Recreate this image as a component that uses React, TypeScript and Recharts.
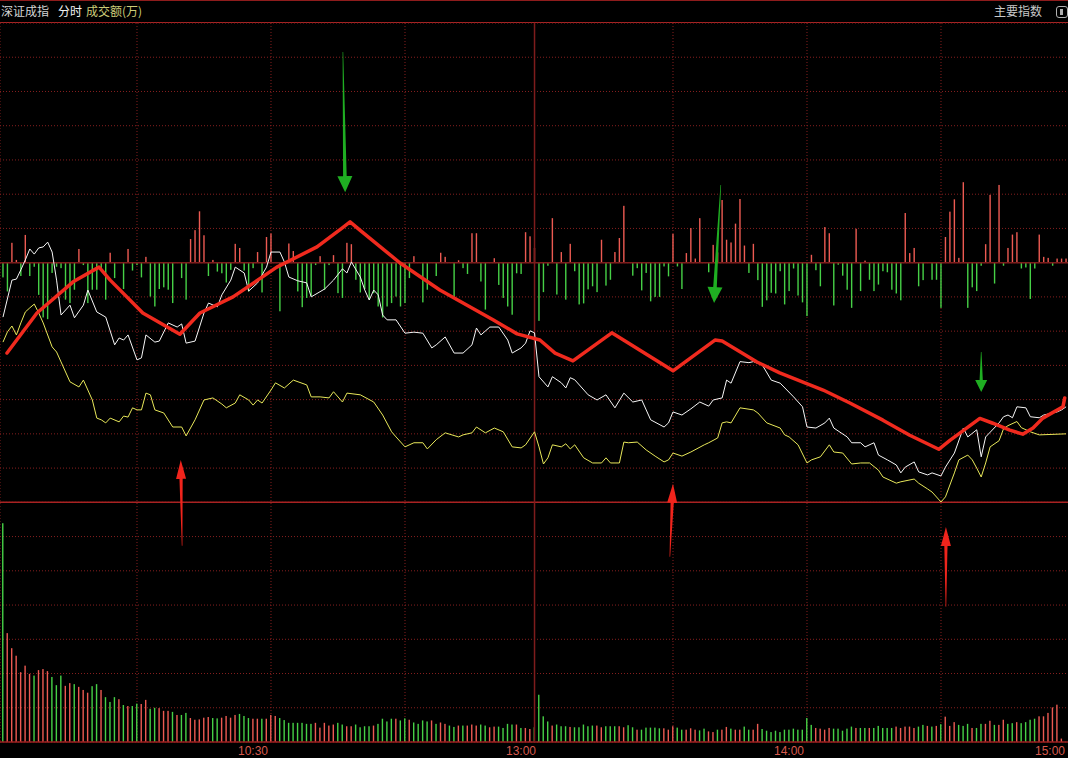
import React from 'react';
import { ComposedChart, Bar, Line, XAxis, YAxis, CartesianGrid, ReferenceLine, Cell } from 'recharts';

// ---------- data ----------
// per-minute red/green indicator around the zero line (price-panel units)
const minuteFlow = [
  -0.43, -0.84, 0.58, 0.08, -0.39, 0.81, -0.39, -0.12, -0.94, -1.6,
  -1.65, -0.3, -0.12, -0.16, -1.08, -1.18, -0.79, 0.4, -0.07, -1.18,
  -0.79, -0.79, -0.16, -1.08, 0.29, -0.45, 0, -0.77, 0.4, -0.23,
  -0.07, -0.43, 0.17, -0.99, -1.28, -0.77, -0.72, -0.79, -1.18, 0,
  -0.45, -1.08, 0.69, 0.95, 1.5, 0.8, -0.39, 0.08, -0.26, -0.31,
  -0.58, -0.21, 0.55, 0.43, -0.23, -0.84, -0.16, 0.31, -0.87, 0.75,
  0.85, 0, -1.42, 0, 0.56, 0.34, -0.84, -1.3, -1.03, -0.97,
  -0.07, 0.19, -0.79, -0.07, 0.22, -0.89, -1.03, 0.58, 0.54, -0.5,
  -0.87, -0.77, -1.08, -0.89, -1.28, -1.6, -1.28, -1.18, -0.99, -1.28,
  -1.18, -0.45, 0.19, 0, -1.16, -0.79, 0, -0.39, 0.29, 0.17,
  0, -1.0, 0.07, -0.16, -0.33, 0.86, 0.86, -0.55, -1.37, 0,
  0.13, -0.65, -1.03, -1.28, -1.52, -0.31, -0.33, 0.89, 0.77, 0.43,
  -1.7, -0.86, -0.09, 1.3, -0.93, 0.31, -1.08, 0.55, -0.25, -1.22,
  -1.19, -0.78, -0.69, -0.86, 0.67, -0.67, -0.5, 0.31, 0.72, 1.66,
  0, -0.38, -0.16, -0.81, -0.3, -1.13, -1.0, -1.0, -0.11, -0.4,
  0.84, -0.11, -0.77, 0.28, 1.01, 0.12, 1.3, 0, -0.28, 0.52,
  0.3, 1.83, 0.67, 0.59, 1.14, 1.86, 0.5, -0.3, 0.55, -0.51,
  -1.29, -1.1, -0.88, -0.9, -0.25, -1.22, -0.83, -0.17, -0.96, -1.16,
  -1.56, 0.23, -0.22, -0.69, 1.04, 0.86, -1.25, -0.06, -0.38, -0.79,
  -1.32, 0.99, -0.83, 0.06, -0.5, -0.83, -0.64, -0.25, -0.28, -0.79,
  -0.9, -1.1, 1.45, 0.28, 0.43, -0.69, -0.51, 0, -0.5, -0.5,
  -1.32, 0.75, 1.49, 1.85, 0.14, 2.35, -1.32, -0.72, -0.83, -0.09,
  0.54, 1.98, -0.61, 2.27, -0.09, 0.43, 0.82, 0.89, -0.17, -0.14,
  -1.06, -0.17, 0.82, 0.17, 0.14, -0.09, 0.12, 0.12, 0.12,
];

// per-minute turnover (volume-panel units)
const volume = [
  6.39, 3.18, 2.74, 2.52, 2.04, 2.23, 1.99, 1.94, 2.1, 2.13,
  2.07, 1.9, 1.66, 1.94, 1.64, 1.72, 1.69, 1.61, 1.52, 1.44,
  1.63, 1.69, 1.52, 1.31, 1.17, 1.31, 1.25, 1.08, 1.05, 1.05,
  1.12, 1.11, 1.23, 0.97, 1.0, 0.99, 0.91, 0.91, 0.88, 0.79,
  0.79, 0.85, 0.7, 0.65, 0.66, 0.71, 0.73, 0.7, 0.69, 0.71,
  0.76, 0.71, 0.79, 0.82, 0.76, 0.7, 0.68, 0.68, 0.68, 0.68,
  0.79, 0.76, 0.7, 0.64, 0.56, 0.56, 0.56, 0.56, 0.53, 0.53,
  0.56, 0.42, 0.56, 0.48, 0.51, 0.56, 0.51, 0.46, 0.46, 0.51,
  0.43, 0.46, 0.46, 0.48, 0.53, 0.68, 0.6, 0.68, 0.68, 0.63,
  0.69, 0.65, 0.57, 0.53, 0.63, 0.6, 0.63, 0.53, 0.57, 0.53,
  0.48, 0.44, 0.48, 0.48, 0.48, 0.51, 0.48, 0.51, 0.48, 0.43,
  0.45, 0.45, 0.41, 0.53, 0.51, 0.51, 0.41, 0.41, 0.38, 0.43,
  1.38, 0.75, 0.6, 0.48, 0.51, 0.46, 0.46, 0.44, 0.43, 0.43,
  0.51, 0.46, 0.48, 0.48, 0.43, 0.46, 0.46, 0.46, 0.46, 0.43,
  0.49, 0.43, 0.36, 0.36, 0.42, 0.42, 0.42, 0.4, 0.4, 0.36,
  0.46, 0.42, 0.36, 0.36, 0.4, 0.36, 0.34, 0.39, 0.31, 0.29,
  0.36, 0.36, 0.44, 0.39, 0.36, 0.36, 0.45, 0.36, 0.36, 0.53,
  0.38, 0.33, 0.29, 0.33, 0.29, 0.36, 0.36, 0.39, 0.36, 0.36,
  0.7, 0.5, 0.41, 0.39, 0.36, 0.41, 0.39, 0.39, 0.33, 0.39,
  0.45, 0.41, 0.41, 0.41, 0.41, 0.41, 0.47, 0.41, 0.41, 0.41,
  0.45, 0.41, 0.45, 0.45, 0.41, 0.45, 0.5, 0.47, 0.45, 0.47,
  0.52, 0.74, 0.47, 0.58, 0.5, 0.47, 0.53, 0.41, 0.41, 0.53,
  0.53, 0.62, 0.5, 0.5, 0.65, 0.53, 0.55, 0.58, 0.55, 0.58,
  0.65, 0.68, 0.75, 0.75, 0.85, 1.01, 1.09, 0.1,
];

// r = up minute, g = down minute
const volumeSide =
  'grrrrrrgrr' + 'rgggrrgrrr' + 'ggrgggrgrg' + 'grrggrrrgr' + 'ggrrrrrggr' +
  'rrrgggrrgr' + 'rrgggggggg' + 'rrrrrggrrg' + 'gggrggggrg' + 'grggggrgrr' +
  'ggrgrrrggr' + 'rggggrgrrg' + 'gggrgggrgg' + 'gggrrgggrr' + 'ggrgggggrr' +
  'rggrrrggrr' + 'grrgrrggrr' + 'gggggggggg' + 'ggrrrrgggg' + 'grggrggggg' +
  'rrrrrggrgr' + 'grrrgggrgg' + 'rrgrrggrgg' + 'ggrrrrrr';

// white price line [minute, value]
const priceLine: [number, number][] = [
  [0, -1.59], [2, -0.51], [3, -0.48], [4, -0.21], [5, 0.08], [6, 0.4], [7, 0.25], [8, 0.43], [9, 0.46], [10, 0.6],
  [11, 0.31], [12, -0.51], [13, -1.53], [15, -1.24], [16, -1.61], [18, -1.24], [19, -0.8], [21, -1.44], [23, -1.59], [25, -2.4],
  [26, -2.2], [27, -2.26], [28, -2.11], [30, -2.84], [31, -2.78], [32, -2.11], [34, -2.32], [35, -2.29], [37, -1.76], [39, -1.88],
  [40, -1.79], [41, -2.35], [43, -2.29], [45, -1.47], [46, -1.18], [48, -1.29], [49, -0.94], [51, -0.51], [52, -0.13], [54, -0.3],
  [55, -0.83], [57, -0.59], [59, -0.13], [60, 0.31], [62, 0.31], [63, 0.02], [64, -0.42], [66, -0.53], [68, -0.59], [69, -1.0],
  [72, -0.77], [74, -0.51], [76, -0.18], [77, -0.3], [78, 0.02], [80, -0.42], [81, -0.8], [82, -1.09], [83, -0.8], [84, -0.94],
  [85, -1.53], [86, -1.67], [88, -1.67], [90, -2.06], [92, -2.03], [94, -2.06], [96, -2.49], [97, -2.4], [99, -2.17], [101, -2.64],
  [103, -2.64], [105, -2.4], [106, -1.91], [107, -2.11], [109, -1.88], [111, -1.88], [113, -2.26], [114, -2.64], [116, -2.49], [117, -2.35],
  [118, -1.99], [119, -2.05], [120, -3.33], [122, -3.63], [123, -3.33], [125, -3.51], [126, -3.66], [127, -3.36], [128, -3.42], [131, -3.86],
  [133, -4.01], [135, -3.86], [137, -4.24], [139, -3.81], [141, -4.07], [143, -4.01], [145, -4.59], [148, -4.8], [149, -4.68], [150, -4.36],
  [152, -4.45], [154, -4.27], [156, -4.07], [158, -4.19], [159, -4.01], [161, -3.95], [162, -3.43], [163, -3.52], [165, -2.89], [167, -2.92],
  [168, -2.89], [170, -2.99], [172, -3.43], [174, -3.52], [177, -3.92], [179, -4.21], [180, -4.8], [182, -4.83], [184, -4.68], [185, -4.54],
  [186, -4.83], [189, -5.09], [190, -5.26], [192, -5.26], [193, -5.38], [195, -5.26], [196, -5.62], [198, -5.76], [200, -5.91], [201, -6.14],
  [202, -5.97], [204, -5.82], [205, -6.11], [207, -6.2], [208, -6.14], [210, -6.23], [211, -5.97], [213, -5.56], [215, -4.83], [216, -5.09],
  [218, -4.88], [219, -5.67], [220, -5.09], [223, -4.68], [224, -4.5], [225, -4.45], [226, -4.53], [227, -4.21], [229, -4.24], [230, -4.5],
  [232, -4.53], [233, -4.45], [236, -4.36], [237, -4.3], [238, -4.21],
];

// yellow line [minute, value]
const avgLine: [number, number][] = [
  [0, -2.32], [1, -2.02], [2, -1.85], [3, -2.11], [4, -1.76], [5, -1.44], [6, -1.32], [7, -1.21], [8, -1.47], [9, -1.76],
  [11, -2.46], [12, -2.61], [13, -2.9], [15, -3.48], [17, -3.63], [18, -3.43], [19, -3.72], [20, -4.01], [21, -4.54], [22, -4.59],
  [23, -4.68], [24, -4.54], [26, -4.65], [27, -4.48], [28, -4.51], [29, -4.24], [30, -4.3], [31, -4.3], [32, -3.81], [33, -3.86],
  [34, -4.3], [36, -4.39], [38, -4.8], [40, -4.8], [41, -5.06], [43, -4.59], [45, -4.01], [47, -3.95], [49, -4.13], [50, -4.24],
  [52, -4.1], [53, -3.86], [55, -4.01], [56, -4.16], [57, -4.01], [58, -4.1], [60, -3.72], [61, -3.51], [63, -3.66], [65, -3.43],
  [68, -3.57], [69, -3.92], [71, -3.92], [73, -3.95], [74, -3.77], [76, -4.07], [77, -3.81], [80, -3.86], [83, -4.07], [85, -4.45],
  [87, -4.94], [88, -5.09], [90, -5.38], [92, -5.26], [94, -5.26], [95, -5.44], [97, -5.17], [99, -4.97], [102, -5.09], [103, -5.03],
  [105, -4.97], [106, -4.8], [108, -4.97], [110, -4.83], [112, -4.94], [114, -5.38], [116, -5.41], [117, -5.32], [119, -4.94], [120, -5.38],
  [121, -5.88], [122, -5.7], [123, -5.32], [125, -5.38], [126, -5.29], [127, -5.44], [128, -5.32], [130, -5.7], [132, -5.85], [134, -5.85],
  [135, -5.7], [136, -5.85], [138, -5.85], [139, -5.24], [140, -5.26], [142, -5.24], [144, -5.47], [146, -5.65], [148, -5.82], [149, -5.76],
  [150, -5.56], [152, -5.65], [154, -5.53], [157, -5.32], [158, -5.26], [160, -5.12], [161, -4.68], [162, -4.65], [163, -4.68], [165, -4.24],
  [168, -4.3], [169, -4.39], [171, -4.68], [174, -4.83], [175, -5.03], [176, -5.09], [178, -5.32], [180, -5.85], [181, -5.76], [183, -5.67],
  [185, -5.32], [186, -5.53], [188, -5.56], [190, -5.88], [192, -5.85], [194, -5.85], [196, -6.06], [197, -6.26], [200, -6.44], [201, -6.4],
  [204, -6.32], [205, -6.44], [207, -6.61], [208, -6.7], [210, -6.99], [211, -6.84], [213, -6.14], [214, -5.76], [216, -5.62], [217, -5.76],
  [218, -6.0], [219, -6.26], [220, -5.85], [221, -5.38], [223, -5.2], [224, -4.85], [225, -4.76], [227, -4.64], [228, -4.82], [230, -4.94],
  [232, -5.03], [238, -5.0],
];

// thick red hand-drawn trend line [minute, value]
const trendLine: [number, number][] = [
  [0.9, -2.64], [7.6, -1.47], [15.7, -0.56], [21.5, -0.13], [24.0, -0.51], [31.3, -1.47], [39.6, -2.09],
  [44.1, -1.47], [51.5, -1.0], [61.3, -0.13], [70.3, 0.46], [75.9, 1.01], [77.7, 1.19], [79.9, 0.95],
  [88.9, -0.01], [97.8, -0.8], [109.7, -1.67], [115.1, -2.08], [120.2, -2.26], [123.6, -2.64], [127.6, -2.87],
  [136.3, -2.05], [150.0, -3.16], [159.4, -2.26], [161.0, -2.29], [168.8, -2.9], [173.9, -3.22], [183.6, -3.72],
  [189.6, -4.1], [197.0, -4.6], [203.0, -5.04], [209.5, -5.45], [212.0, -5.19], [218.7, -4.55], [221.6, -4.69],
  [225.4, -4.89], [228.3, -5.01], [230.6, -4.83], [232.8, -4.54], [237.3, -4.21], [237.7, -3.95],
];

// annotation arrows: tail -> tip, [minute, value]
const arrowMarks = [
  { from: [76.1, 6.15], to: [76.6, 2.06], kind: 'down' },
  { from: [160.7, 2.27], to: [159.2, -1.18], kind: 'down' },
  { from: [219.0, -2.61], to: [219.0, -3.78], kind: 'downSmall' },
  { from: [40.1, -8.27], to: [39.8, -5.76], kind: 'up' },
  { from: [149.3, -8.59], to: [150.0, -6.46], kind: 'up' },
  { from: [211.1, -10.05], to: [211.1, -7.72], kind: 'up' },
];

const gridMinutes = [30, 60, 90, 150, 180, 210];
const gridLevels = [-14, -13, -12, -11, -10, -9, -8, -7, -6, -5, -4, -3, -2, -1, 0, 1, 2, 3, 4, 5, 6, 7];
const timeTicks = [60, 120, 180, 240];
const timeLabels = ['10:30', '13:00', '14:00', '15:00'];
const middayMinute = 119;

// ---------- styles ----------
const UP = '#ec5a52';
const DOWN = '#46d046';
const GRID = '#861f1f';
const BAR_W = 1.4;
const arrowStyles: Record<string, { color: string; head: number; half: number; neck: number }> = {
  down: { color: '#1fae22', head: 16, half: 7.5, neck: 1.8 },
  downSmall: { color: '#1fae22', head: 12, half: 6, neck: 1.6 },
  up: { color: '#f0241c', head: 19, half: 5, neck: 1.6 },
};

const rows = minuteFlow.map((f, i) => ({
  t: i,
  flow: f,
  vol: i < volume.length ? volume[i] : null,
  side: volumeSide[i] || 'g',
}));
const priceData = priceLine.map(([t, v]) => ({ t, v }));
const avgData = avgLine.map(([t, v]) => ({ t, v }));
const trendData = trendLine.map(([t, v]) => ({ t, v }));

// thin stick drawn at the centre of the slot that Recharts computes
const Stick = (p: any) => {
  const { x, y, width, height, fill } = p;
  if (x == null || y == null || !height) return null;
  const top = Math.min(y, y + height);
  const h = Math.abs(height);
  return <rect x={x + width / 2 - BAR_W / 2} y={top} width={BAR_W} height={h} fill={fill} />;
};

function makeArrow(kind: string) {
  const s = arrowStyles[kind];
  return (p: any) => {
    const { x1, y1, x2, y2 } = p;
    const dx = x2 - x1;
    const dy = y2 - y1;
    const L = Math.hypot(dx, dy) || 1;
    const ux = dx / L;
    const uy = dy / L;
    const nx = -uy;
    const ny = ux;
    const bx = x2 - ux * s.head;
    const by = y2 - uy * s.head;
    const pts = [
      [x1 + nx * 0.3, y1 + ny * 0.3],
      [bx + nx * s.neck, by + ny * s.neck],
      [bx + nx * s.half, by + ny * s.half],
      [x2, y2],
      [bx - nx * s.half, by - ny * s.half],
      [bx - nx * s.neck, by - ny * s.neck],
      [x1 - nx * 0.3, y1 - ny * 0.3],
    ];
    return <polygon points={pts.map((q) => q.join(',')).join(' ')} fill={s.color} />;
  };
}

const TimeTick = (props: any) => {
  const { x, y, payload } = props;
  const idx = timeTicks.indexOf(payload.value);
  return (
    <text
      x={Math.min(x - 3, 1065)}
      y={y + 13}
      textAnchor="end"
      fill="#d85a4e"
      fontSize={13}
      fontFamily="'Liberation Sans', Arial, sans-serif"
      textLength={30}
      lengthAdjust="spacingAndGlyphs"
    >
      {idx >= 0 ? timeLabels[idx] : ''}
    </text>
  );
};

export default function App() {
  return (
    <div style={{ position: 'relative', width: 1068, height: 758, overflow: 'hidden', background: '#000' }}>
      <style>{'html,body{margin:0;padding:0;background:#000;overflow:hidden}'}</style>
      <div style={{ position: 'absolute', left: 0, top: 0, width: 1068, height: 1, background: '#8e1c1c' }} />
      <div style={{ position: 'absolute', left: 0, top: 22, width: 1068, height: 1, background: '#a82424' }} />
      <div
        style={{
          position: 'absolute', left: 1, top: 4, fontSize: 12, lineHeight: '14px', whiteSpace: 'nowrap',
          fontFamily: "'Noto Sans CJK SC', sans-serif",
        }}
      >
        <span style={{ color: '#d4d4d4' }}>深证成指</span>
        <span style={{ color: '#f2f2f2', marginLeft: 9 }}>分时</span>
        <span style={{ color: '#cccc78', marginLeft: 4 }}>成交额(万)</span>
      </div>
      <div
        style={{
          position: 'absolute', left: 994, top: 4, fontSize: 12, lineHeight: '14px', whiteSpace: 'nowrap',
          color: '#c8c8c8', fontFamily: "'Noto Sans CJK SC', sans-serif",
        }}
      >
        主要指数
      </div>
      <div
        style={{
          position: 'absolute', left: 1056, top: 6, width: 10, height: 10, border: '1px solid #b0b0b0',
          borderRadius: 3,
        }}
      >
        <div style={{ position: 'absolute', left: 3, top: 2, width: 3, height: 6, background: '#b0b0b0' }} />
      </div>

      <div style={{ position: 'absolute', left: 0, top: 0 }}>
        <ComposedChart width={1075} height={758} data={rows} margin={{ top: 23, right: 0, bottom: 0, left: 0 }}>
          <XAxis xAxisId="b" type="number" dataKey="t" domain={[-0.67, 240]} ticks={gridMinutes} hide allowDataOverflow />
          <XAxis
            xAxisId="a"
            type="number"
            dataKey="t"
            domain={[-0.67, 240]}
            ticks={timeTicks}
            interval={0}
            allowDataOverflow
            axisLine={false}
            tickLine={false}
            tickSize={0}
            tickMargin={0}
            height={16}
            tick={<TimeTick />}
          />
          <YAxis yAxisId="p" type="number" domain={[-14, 7]} ticks={gridLevels} hide allowDataOverflow />
          <YAxis yAxisId="v" type="number" domain={[0, 21]} hide allowDataOverflow />
          <CartesianGrid xAxisId="b" yAxisId="p" stroke={GRID} strokeDasharray="1 2" strokeWidth={1} />

          <ReferenceLine xAxisId="b" yAxisId="p" y={0} stroke="#7e1c1c" strokeWidth={1.5} />
          <ReferenceLine xAxisId="b" yAxisId="p" y={-7} stroke="#a82222" strokeWidth={1.5} />
          <ReferenceLine xAxisId="b" yAxisId="v" y={0} stroke="#9a2020" strokeWidth={1.5} />
          <ReferenceLine xAxisId="b" yAxisId="p" x={middayMinute} stroke="#7e1c1c" strokeWidth={1.5} />

          <Bar xAxisId="b" yAxisId="p" dataKey="flow" barSize={2} shape={<Stick />} isAnimationActive={false}>
            {rows.map((r, i) => (
              <Cell key={`f${i}`} fill={r.flow >= 0 ? UP : DOWN} />
            ))}
          </Bar>
          <Bar xAxisId="a" yAxisId="v" dataKey="vol" barSize={2} shape={<Stick />} isAnimationActive={false}>
            {rows.map((r, i) => (
              <Cell key={`v${i}`} fill={r.side === 'r' ? UP : DOWN} />
            ))}
          </Bar>

          <Line xAxisId="b" yAxisId="p" data={avgData} dataKey="v" type="linear" stroke="#e8e85a" strokeWidth={1} dot={false} activeDot={false} isAnimationActive={false} />
          <Line xAxisId="b" yAxisId="p" data={priceData} dataKey="v" type="linear" stroke="#f6f6f6" strokeWidth={1} dot={false} activeDot={false} isAnimationActive={false} />
          <Line xAxisId="b" yAxisId="p" data={trendData} dataKey="v" type="linear" stroke="#f02a1e" strokeWidth={3.5} strokeLinejoin="round" strokeLinecap="round" dot={false} activeDot={false} isAnimationActive={false} />

          {arrowMarks.map((a, i) => (
            <ReferenceLine
              key={`ar${i}`}
              xAxisId="b"
              yAxisId="p"
              ifOverflow="visible"
              segment={[{ x: a.from[0], y: a.from[1] }, { x: a.to[0], y: a.to[1] }]}
              shape={makeArrow(a.kind)}
            />
          ))}
        </ComposedChart>
      </div>
    </div>
  );
}
